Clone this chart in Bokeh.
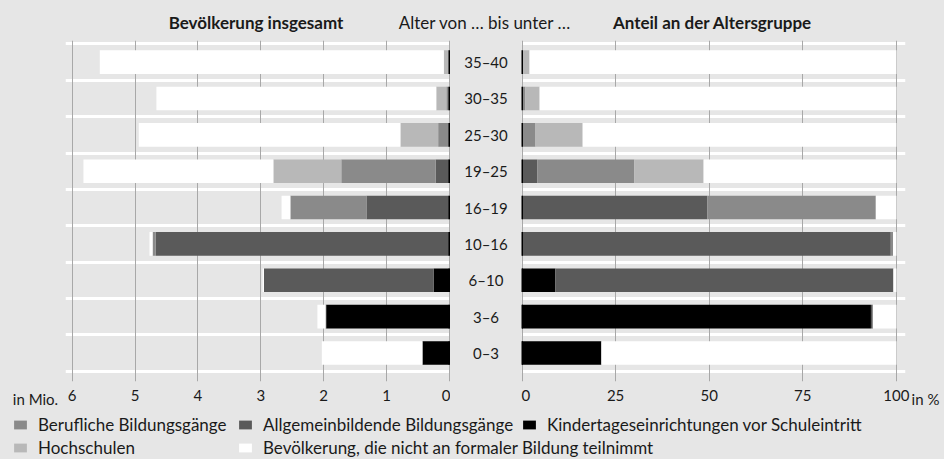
from bokeh.plotting import figure
from bokeh.models import ColumnDataSource, Range1d, FixedTicker, Label, Legend, LegendItem
from bokeh.layouts import column, row
from bokeh.embed import file_html
from bokeh.resources import INLINE
from bokeh.core.properties import value

try:
    from bokeh.models import GlobalInlineStyleSheet
    page_css = [GlobalInlineStyleSheet(css="html, body { background-color: #e6e6e6; }")]
except Exception:
    page_css = []

# ---------------- data ----------------
ages = ["0–3", "3–6", "6–10", "10–16", "16–19", "19–25", "25–30", "30–35", "35–40"]

# Bevölkerung insgesamt, in Mio.
mio_kita  = [0.43, 1.96, 0.25, 0.00, 0.00, 0.00, 0.00, 0.00, 0.00]
mio_allg  = [0.00, 0.01, 2.70, 4.67, 1.32, 0.22, 0.00, 0.00, 0.00]
mio_beruf = [0.00, 0.00, 0.00, 0.05, 1.21, 1.50, 0.18, 0.05, 0.01]
mio_hoch  = [0.00, 0.00, 0.00, 0.00, 0.00, 1.08, 0.60, 0.16, 0.08]
mio_nicht = [1.60, 0.13, 0.02, 0.05, 0.14, 3.02, 4.16, 4.45, 5.47]

# Anteil an der Altersgruppe, in %
pct_kita  = [21.2, 93.2, 8.9, 0.0, 0.0, 0.0, 0.0, 0.0, 0.0]
pct_allg  = [0.0, 0.5, 90.3, 98.5, 49.5, 4.1, 0.0, 0.0, 0.0]
pct_beruf = [0.0, 0.0, 0.0, 0.6, 45.0, 25.9, 3.6, 0.9, 0.2]
pct_hoch  = [0.0, 0.0, 0.0, 0.0, 0.0, 18.5, 12.6, 3.8, 1.8]
pct_nicht = [78.8, 6.3, 0.8, 0.9, 5.5, 51.5, 83.8, 95.3, 98.0]

mio_ticks = [0, 1, 2, 3, 4, 5, 6]
pct_ticks = [0, 25, 50, 75, 100]

series_keys = ["kita", "allg", "beruf", "hoch", "nicht"]
series_labels = {
    "kita": "Kindertageseinrichtungen vor Schuleintritt",
    "allg": "Allgemeinbildende Bildungsgänge",
    "beruf": "Berufliche Bildungsgänge",
    "hoch": "Hochschulen",
    "nicht": "Bevölkerung, die nicht an formaler Bildung teilnimmt",
}
series_colors = {
    "kita": "#000000",
    "allg": "#5a5a5a",
    "beruf": "#8a8a8a",
    "hoch": "#b8b8b8",
    "nicht": "#ffffff",
}

titles = ["Bevölkerung insgesamt", "Alter von … bis unter …", "Anteil an der Altersgruppe"]
unit_left = "in Mio."
unit_right = "in %"

# ---------------- style / layout ----------------
FONT = "Lato"
BG = "#e6e6e6"
GRID = "#a8a8a8"
TXT = "#1a1a1a"

W = 944
TITLE_H = 40
TOP_H = 370
LEG_H = 49
BOTTOM = 25
UL_W = 65            # strip left of the left panel (unit text)
LEFT_W = 385         # left panel frame
MID_W = 71
RIGHT_FRAME = 384
RIGHT_BORDER = 5
RIGHT_W = RIGHT_FRAME + RIGHT_BORDER
UR_W = W - UL_W - LEFT_W - MID_W - RIGHT_W

row_y = [i + 0.5 for i in range(len(ages))]
src_mio = ColumnDataSource(dict(age=ages, y=row_y, kita=mio_kita, allg=mio_allg,
                                beruf=mio_beruf, hoch=mio_hoch, nicht=mio_nicht))
src_pct = ColumnDataSource(dict(age=ages, y=row_y, kita=pct_kita, allg=pct_allg,
                                beruf=pct_beruf, hoch=pct_hoch, nicht=pct_nicht))

y_range = Range1d(-0.285, len(ages) + 0.095)


def plain(width, height, xr, yr, bottom=0):
    p = figure(width=width, height=height, x_range=xr, y_range=yr,
               output_backend="svg", toolbar_location=None,
               min_border_left=0, min_border_right=0, min_border_top=0, min_border_bottom=bottom,
               background_fill_color=BG, border_fill_color=BG, outline_line_color=None,
               x_axis_location=None, y_axis_location=None)
    p.grid.visible = False
    return p


def style_axis(ax, ticks):
    ax.ticker = FixedTicker(ticks=ticks)
    ax.axis_line_color = None
    ax.major_tick_line_color = None
    ax.minor_tick_line_color = None
    ax.major_tick_in = 0
    ax.major_tick_out = 0
    ax.major_label_standoff = 8
    ax.major_label_text_font = FONT
    ax.major_label_text_font_size = "15px"
    ax.major_label_text_color = TXT


def panel(width, b_right, x_range, ticks, src):
    p = figure(width=width, height=TOP_H, x_range=x_range, y_range=y_range,
               output_backend="svg", toolbar_location=None,
               min_border_left=0, min_border_right=b_right,
               min_border_top=0, min_border_bottom=BOTTOM,
               background_fill_color=BG, border_fill_color=BG,
               outline_line_color=None, y_axis_location=None)
    style_axis(p.xaxis[0], ticks)

    xg = p.xgrid[0]
    yg = p.ygrid[0]
    xg.ticker = FixedTicker(ticks=ticks)
    xg.grid_line_color = GRID
    xg.grid_line_width = 1
    yg.ticker = FixedTicker(ticks=list(range(len(ages) + 1)))
    yg.grid_line_color = "white"
    yg.grid_line_width = 3
    p.center = [yg, xg]

    p.hbar_stack(series_keys, y="y", height=0.65, source=src,
                 fill_color=[series_colors[k] for k in series_keys], line_color=None)
    p.rect(x=0, y="y", width=2, width_units="screen", height=0.65, source=src,
           fill_color="black", line_color=None)
    return p


left = panel(LEFT_W, 0, Range1d(6.105, -0.016), mio_ticks, src_mio)
right = panel(RIGHT_W, RIGHT_BORDER, Range1d(-0.134, 102.43), pct_ticks, src_pct)

mid = plain(MID_W, TOP_H, Range1d(-1, 1), y_range, bottom=BOTTOM)
mid.text(x=0, y="y", text="age", source=src_mio, text_align="center", text_baseline="middle",
         text_font=value(FONT), text_font_size="15px", text_color=TXT)


# unit texts, set on the same baseline as the tick labels
def unit_strip(width, pos, text):
    p = figure(width=width, height=TOP_H, x_range=Range1d(0, width), y_range=Range1d(0, 1),
               output_backend="svg", toolbar_location=None,
               min_border_left=0, min_border_right=0, min_border_top=0, min_border_bottom=BOTTOM,
               background_fill_color=BG, border_fill_color=BG, outline_line_color=None,
               y_axis_location=None)
    p.grid.visible = False
    ax = p.xaxis[0]
    style_axis(ax, [pos])
    ax.major_label_overrides = {pos: text}
    return p


ul = unit_strip(UL_W, 35, unit_left)
ur = unit_strip(UR_W, 15, unit_right)

# title strip
tf = plain(W, TITLE_H, Range1d(0, W), Range1d(0, TITLE_H))
title_x = [UL_W + LEFT_W / 2 - 2, UL_W + LEFT_W + MID_W / 2 - 1,
           UL_W + LEFT_W + MID_W + RIGHT_FRAME / 2 - 1]
title_w = ["bold", "normal", "bold"]
for t, x, wgt in zip(titles, title_x, title_w):
    tf.add_layout(Label(x=x, y=18, text=t, text_align="center", text_baseline="middle",
                        text_font=FONT, text_font_size="17px", text_font_style=wgt, text_color=TXT))

# legend strip: two rows, items aligned in columns
lf = plain(W, LEG_H, Range1d(0, 1), Range1d(0, 1))
dummy = {}
for k in series_keys:
    dummy[k] = lf.hbar(y=[-10], right=[0], height=1, fill_color=series_colors[k], line_color=None)

legend_rows = [(24, [("beruf", 12), ("allg", 237), ("kita", 521)]),
               (1, [("hoch", 12), ("nicht", 237)])]
for ypos, entries in legend_rows:
    for k, xpos in entries:
        lf.add_layout(Legend(items=[LegendItem(label=series_labels[k], renderers=[dummy[k]])],
                             location=(xpos, ypos), orientation="horizontal",
                             glyph_width=16, glyph_height=11, label_standoff=10,
                             padding=0, margin=0, label_height=11,
                             border_line_color=None, background_fill_alpha=0,
                             label_text_font=FONT, label_text_font_size="17px",
                             label_text_color=TXT))

layout = column(tf, row(ul, left, mid, right, ur), lf, stylesheets=page_css)

open("out.html", "w").write(file_html(layout, INLINE))
